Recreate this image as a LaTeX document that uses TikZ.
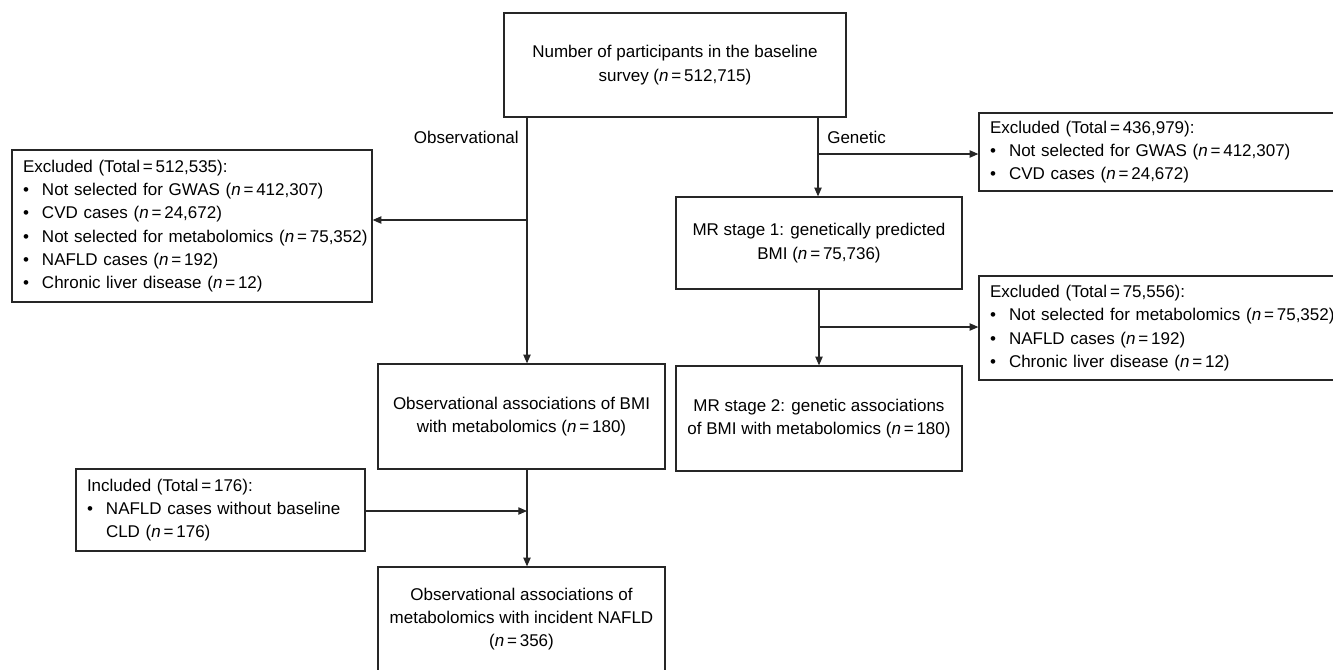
\documentclass[tikz,border=0pt]{standalone}
\usepackage{fontspec}
\setmainfont{Liberation Sans}
\usetikzlibrary{arrows.meta}
\newcommand{\myn}[1]{(\textit{n}\,=\,#1)}
\newcommand{\myeq}{\,=\,}
\newcommand{\bul}{\makebox[14.25pt][l]{\textbullet}}
\newcommand{\hang}{\hspace*{14.25pt}}
\tikzset{
  base/.style={draw=black!85, line width=1pt, inner ysep=0pt, font=\fontsize{12.75}{17.5}\selectfont},
  cbox/.style={base, align=center, inner xsep=4pt},
  lbox/.style={base, align=left, inner xsep=8.25pt},
  conn/.style={draw=black!85, line width=0.8pt},
  arr/.style={conn, -{Triangle[length=6.5pt,width=5.5pt]}},
  lbl/.style={font=\fontsize{12.75}{17.5}\selectfont, inner sep=0pt}
}
\begin{document}
\begin{tikzpicture}[x=0.75pt,y=-0.75pt]
\useasboundingbox (0,0) rectangle (1333,669);
\clip (0,0) rectangle (1333,669);
% boxes
\node[cbox, minimum width=342*0.75pt, minimum height=104*0.75pt] (top) at (675,65)
  {Number of participants in the baseline\\ survey \myn{512,715}};
\node[lbox, text width=338*0.75pt, minimum height=152*0.75pt] (lex) at (192,226)
  {Excluded (Total\myeq512,535):\\
   \bul Not selected for GWAS \myn{412,307}\\
   \bul CVD cases \myn{24,672}\\
   \mbox{\bul Not selected for metabolomics \myn{75,352}}\\
   \bul NAFLD cases \myn{192}\\
   \bul Chronic liver disease \myn{12}};
\node[lbox, text width=359*0.75pt, minimum height=78*0.75pt] (rex1) at (1169.5,152)
  {Excluded (Total\myeq436,979):\\
   \bul Not selected for GWAS \myn{412,307}\\
   \bul CVD cases \myn{24,672}};
\node[cbox, minimum width=286*0.75pt, minimum height=92*0.75pt] (mr1) at (819,243)
  {MR stage 1: genetically predicted\\ BMI \myn{75,736}};
\node[lbox, text width=359*0.75pt, minimum height=104*0.75pt] (rex2) at (1169.5,328)
  {Excluded (Total\myeq75,556):\\
   \bul Not selected for metabolomics \myn{75,352}\\
   \bul NAFLD cases \myn{192}\\
   \bul Chronic liver disease \myn{12}};
\node[cbox, minimum width=287*0.75pt, minimum height=105*0.75pt] (obs1) at (521.5,416.5)
  {Observational associations of BMI\\ with metabolomics \myn{180}};
\node[cbox, minimum width=286*0.75pt, minimum height=105*0.75pt] (mr2) at (819,418.5)
  {MR stage 2: genetic associations\\ of BMI with metabolomics \myn{180}};
\node[lbox, text width=267*0.75pt, minimum height=82*0.75pt] (inc) at (220.5,510)
  {Included (Total\myeq176):\\
   \bul NAFLD cases without baseline\\
   \hang CLD \myn{176}};
\node[cbox, minimum width=287*0.75pt, minimum height=104*0.75pt] (obs2) at (521.5,619)
  {Observational associations of\\ metabolomics with incident NAFLD\\ \myn{356}};
% junction coordinates
\coordinate (ox) at (527,0);
\coordinate (gx) at (818,0);
\coordinate (mx) at (819,0);
\coordinate (j1) at (527,220);
\coordinate (j2) at (818,154);
\coordinate (j3) at (819,327);
\coordinate (j4) at (527,511);
% connectors
\draw[arr] (top.south -| ox) -- (obs1.north -| ox);
\draw[arr] (j1) -- (lex.east |- j1);
\draw[arr] (top.south -| gx) -- (mr1.north -| gx);
\draw[arr] (j2) -- (rex1.west |- j2);
\draw[arr] (mr1.south -| mx) -- (mr2.north -| mx);
\draw[arr] (j3) -- (rex2.west |- j3);
\draw[arr] (obs1.south -| ox) -- (obs2.north -| ox);
\draw[arr] (inc.east |- j4) -- (j4);
% labels
\node[lbl, anchor=east] (lobs) at (519,137) {Observational};
\node[lbl, anchor=west] (lgen) at (827,137) {Genetic};
\end{tikzpicture}
\end{document}
